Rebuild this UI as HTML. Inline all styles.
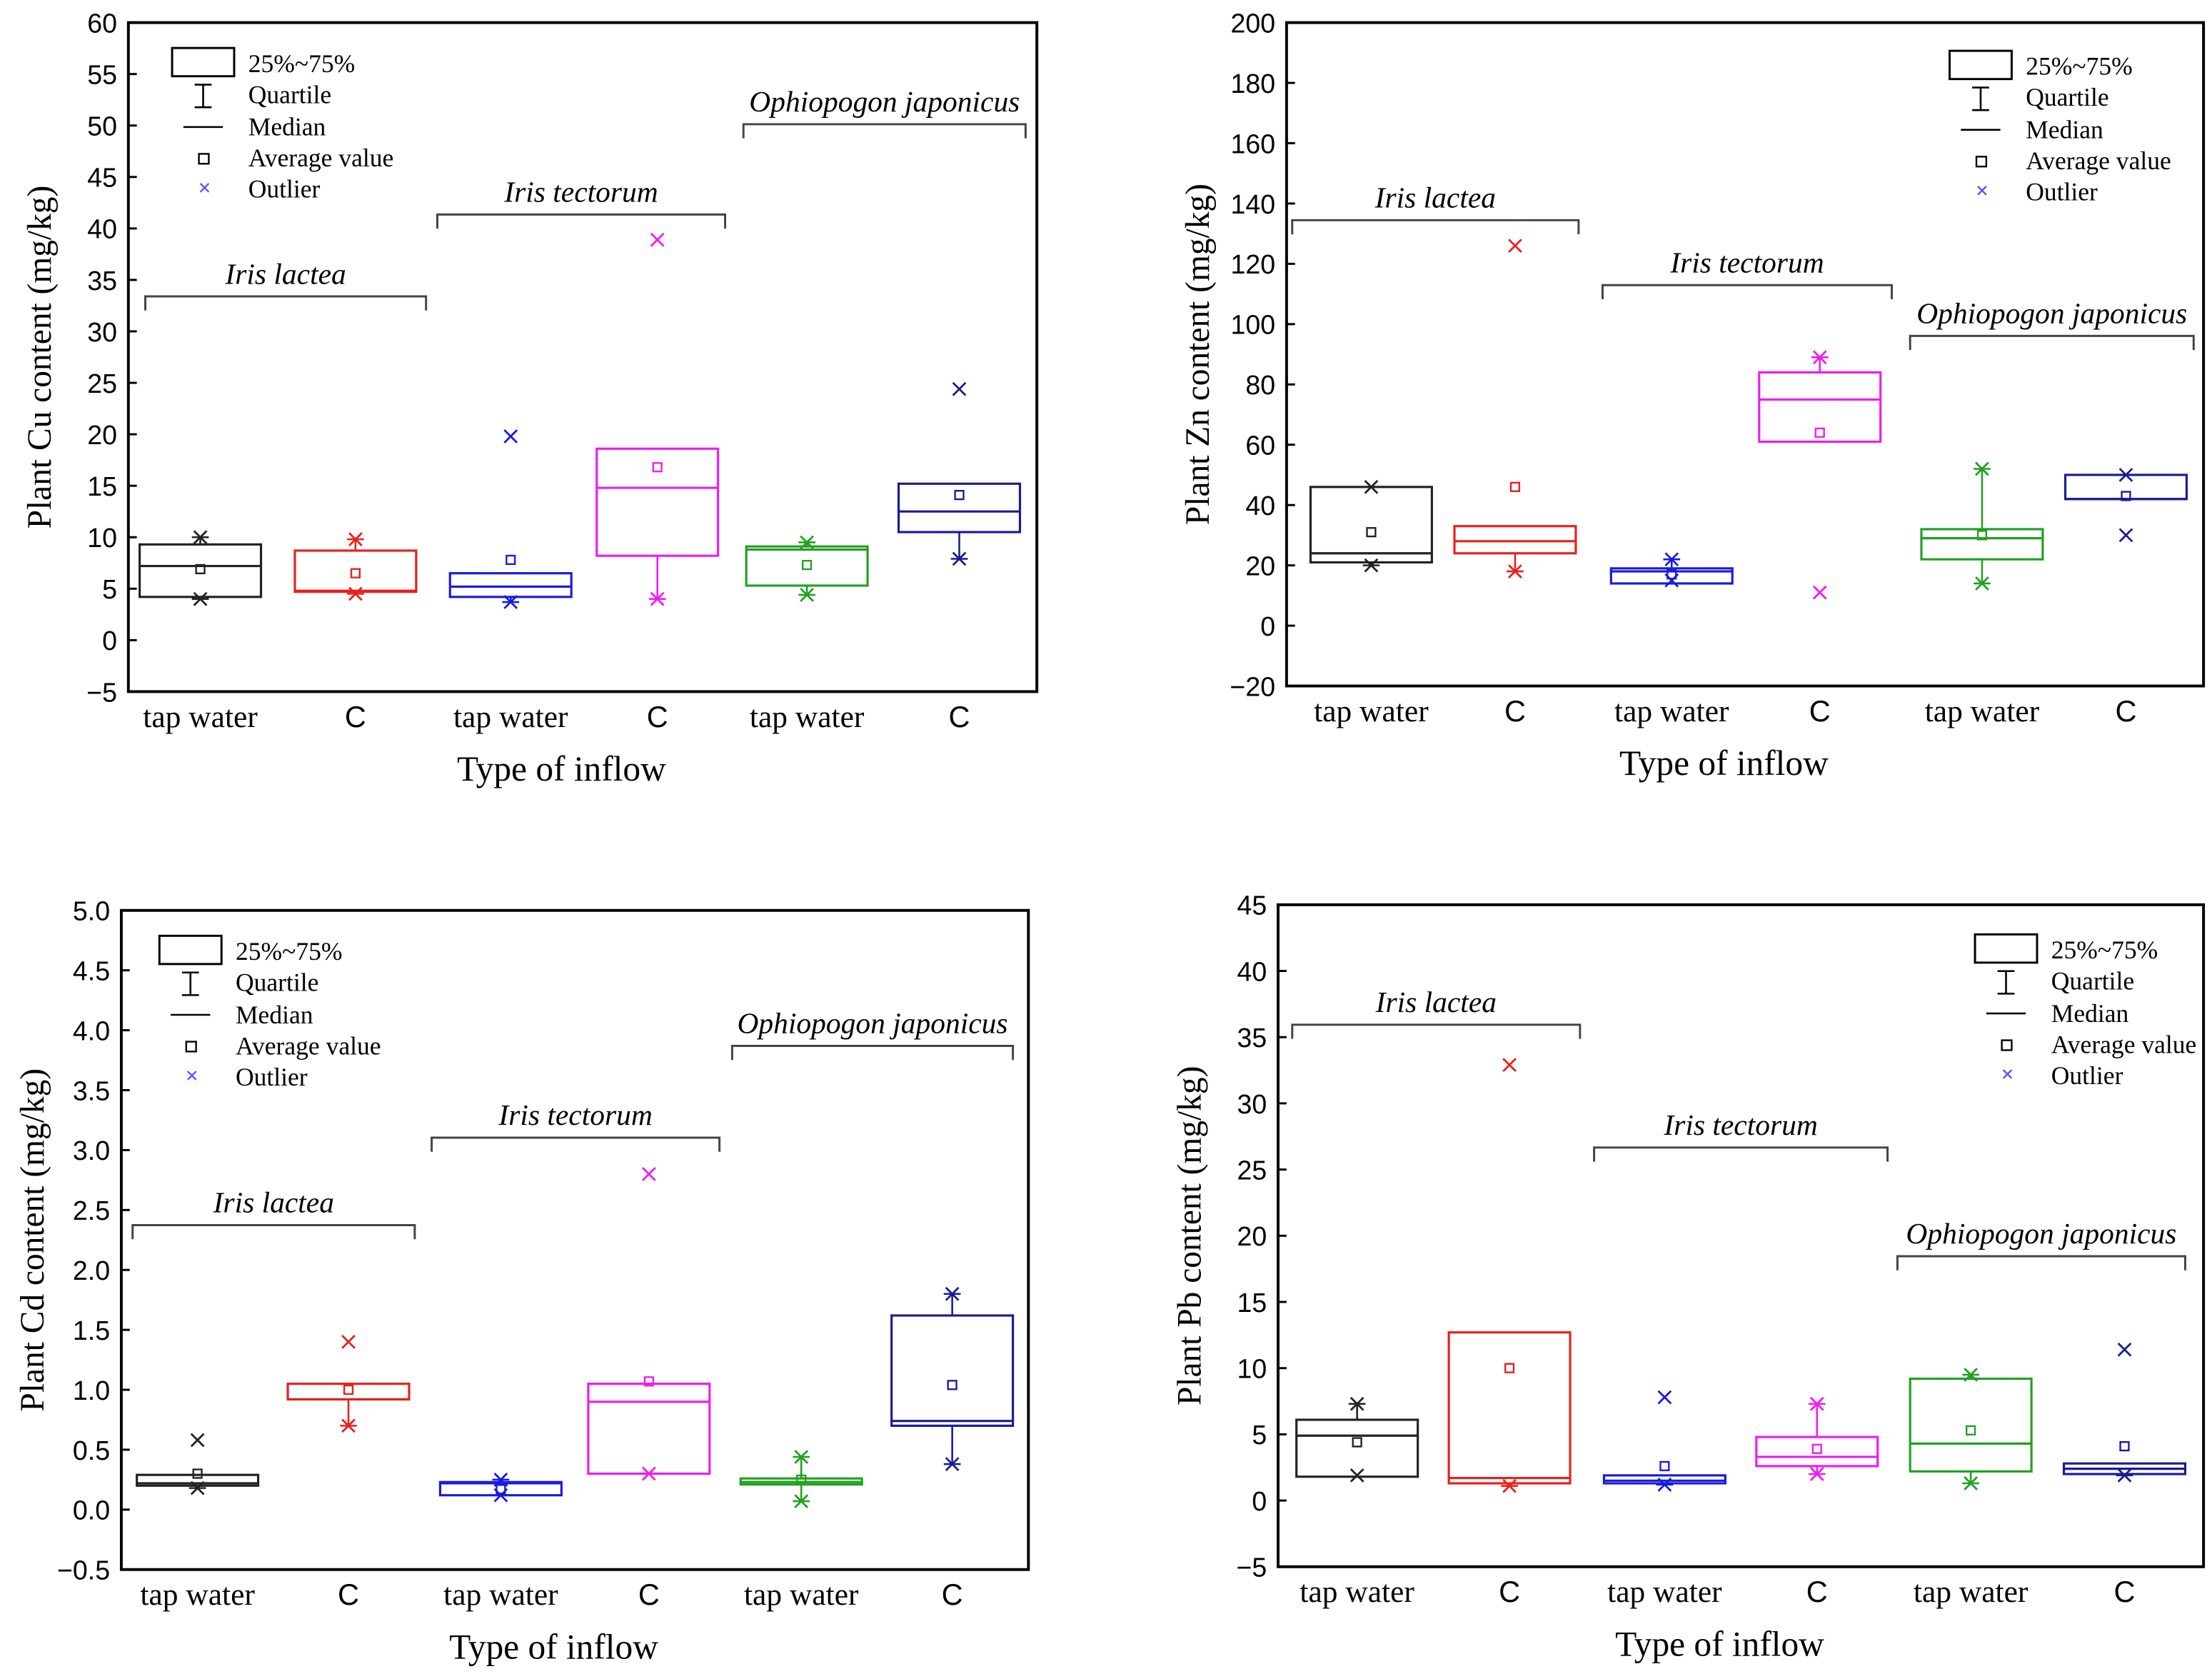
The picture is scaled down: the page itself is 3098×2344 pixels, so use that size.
<!DOCTYPE html>
<html><head><meta charset="utf-8"><style>
html,body{margin:0;padding:0;background:#fff;}
svg{display:block;}
</style></head><body>
<svg id="chart" width="3098" height="2344" viewBox="0 0 1568 1186" preserveAspectRatio="none" xmlns="http://www.w3.org/2000/svg"></svg>
<script>
// ---- data ----
const categories = ["tap water","C","tap water","C","tap water","C"];
const colors = ["#222","#e8201c","#1a1ae0","#f01cf0","#22a022","#1c1c90"];
const species = ["Iris lactea","Iris tectorum","Ophiopogon japonicus"];

const cuQ1=[4.2,4.7,4.2,8.2,5.3,10.5], cuQ3=[9.3,8.7,6.5,18.6,9.1,15.2], cuMed=[7.2,4.8,5.2,14.8,8.8,12.5], cuMean=[6.9,6.5,7.8,16.8,7.3,14.1];
const cuLo=[4.0,4.5,3.7,4.0,4.4,7.9], cuHi=[10.0,9.8,null,null,9.5,null], cuOut=[[],[],[19.8],[38.9],[],[24.4]];
const cuTicks=[-5,0,5,10,15,20,25,30,35,40,45,50,55,60];

const znQ1=[21,24,14,61,22,42], znQ3=[46,33,19,84,32,50], znMed=[24,28,18,75,29,42], znMean=[31,46,17,64,30,43];
const znLo=[20,18,15,null,14,null], znHi=[46,null,22,89,52,null], znOut=[[],[126],[],[11],[],[50,30]];
const znTicks=[-20,0,20,40,60,80,100,120,140,160,180,200];

const cdQ1=[0.2,0.92,0.12,0.3,0.21,0.7], cdQ3=[0.29,1.05,0.23,1.05,0.26,1.62], cdMed=[0.22,0.92,0.22,0.9,0.23,0.74], cdMean=[0.3,1.0,0.17,1.07,0.25,1.04];
const cdLo=[0.18,0.7,0.12,0.3,0.07,0.38], cdHi=[null,null,0.25,null,0.44,1.8], cdOut=[[0.58],[1.4],[],[2.8],[],[]];
const cdTicks=[-0.5,0,0.5,1,1.5,2,2.5,3,3.5,4,4.5,5];

const pbQ1=[1.8,1.3,1.3,2.6,2.2,2.0], pbQ3=[6.1,12.7,1.9,4.8,9.2,2.8], pbMed=[4.9,1.7,1.5,3.3,4.3,2.4], pbMean=[4.4,10,2.6,3.9,5.3,4.1];
const pbLo=[1.9,1.1,1.2,2.0,1.3,1.9], pbHi=[7.3,null,null,7.3,9.5,null], pbOut=[[],[32.9],[7.8],[],[],[11.4]];
const pbTicks=[-5,0,5,10,15,20,25,30,35,40,45];

const NS="http://www.w3.org/2000/svg";
const svg=document.getElementById('chart');
function mk(tag,attrs,parent){const e=document.createElementNS(NS,tag);for(const k in attrs)e.setAttribute(k,attrs[k]);(parent||svg).appendChild(e);return e;}
function txt(s,attrs,parent){const e=mk('text',attrs,parent);e.textContent=s;return e;}

function panel(p){
  const g=mk('g',{});
  
  
  const y=v=>p.y0+(p.ymax-v)/(p.ymax-p.ymin)*(p.y1-p.y0);
  const frame=mk('rect',{x:p.x0,y:p.y0,width:p.x1-p.x0,height:p.y1-p.y0,fill:'none',stroke:'#000','stroke-width':2},g);
  
  
  p.ticks.forEach(t=>{
    mk('line',{x1:p.x0,x2:p.x0+6,y1:y(t),y2:y(t),stroke:'#000','stroke-width':1.5},g);
    const s=p.dec?Math.abs(t).toFixed(p.dec):String(Math.abs(t));
    const lab=txt((t<0?'\u2212':'')+s,{x:p.x0-8,y:y(t)+7,'text-anchor':'end','font-family':'Liberation Sans, sans-serif','font-size':19},g);
    
    
  });
  categories.forEach((c,i)=>{
    const isC=c==='C';
    const lab=txt(c,{x:p.cx[i],y:p.y1+25,'text-anchor':'middle','font-family':isC?'Liberation Sans, sans-serif':'Liberation Serif, serif','font-size':isC?21:22},g);
    
    
  });
  const xt=txt('Type of inflow',{x:(p.x0+p.x1)/2-15,y:p.y1+63,'text-anchor':'middle','font-family':'Liberation Serif, serif','font-size':25},g);
  
  
  const yt=txt(p.ytitle,{transform:`translate(${p.x0-55},${(p.y0+p.y1)/2}) rotate(-90)`,'text-anchor':'middle','font-family':'Liberation Serif, serif','font-size':24},g);
  
  
  const hw=43;
  const mark=(cx,cy,col)=>{const s=4.5;mk('path',{d:`M${cx-s},${cy-s}L${cx+s},${cy+s}M${cx-s},${cy+s}L${cx+s},${cy-s}`,stroke:col,'stroke-width':1.4},g);};
  for(let i=0;i<6;i++){
    const col=colors[i],cx=p.cx[i];
    const bg=mk('g',{},g);
    
    
    const top=y(p.q3[i]),bot=y(p.q1[i]);
    if(p.lo[i]!=null){mk('line',{x1:cx,x2:cx,y1:bot,y2:y(p.lo[i]),stroke:col,'stroke-width':1.3},bg);mk('line',{x1:cx-6,x2:cx+6,y1:y(p.lo[i]),y2:y(p.lo[i]),stroke:col,'stroke-width':1.3},bg);mark(cx,y(p.lo[i]),col);}
    if(p.hi[i]!=null){mk('line',{x1:cx,x2:cx,y1:top,y2:y(p.hi[i]),stroke:col,'stroke-width':1.3},bg);mk('line',{x1:cx-6,x2:cx+6,y1:y(p.hi[i]),y2:y(p.hi[i]),stroke:col,'stroke-width':1.3},bg);mark(cx,y(p.hi[i]),col);}
    mk('rect',{x:cx-hw,y:top,width:2*hw,height:Math.max(bot-top,1),fill:'#fff',stroke:col,'stroke-width':1.6},bg);
    mk('line',{x1:cx-hw,x2:cx+hw,y1:y(p.med[i]),y2:y(p.med[i]),stroke:col,'stroke-width':1.6},bg);
    mk('rect',{x:cx-3,y:y(p.mean[i])-3,width:6,height:6,fill:'none',stroke:col,'stroke-width':1.2},bg);
    p.out[i].forEach(v=>mark(cx,y(v),col));
  }
  p.br.forEach((b,k)=>{
    const bg=mk('g',{},g);
    
    
    mk('path',{d:`M${b[0]},${b[2]+10}V${b[2]}H${b[1]}V${b[2]+10}`,fill:'none',stroke:'#444','stroke-width':1.5},bg);
    txt(species[k],{x:(b[0]+b[1])/2,y:b[2]-9,'text-anchor':'middle','font-family':'Liberation Serif, serif','font-style':'italic','font-size':21},bg);
  });
  const L=p.leg, lg=mk('g',{},g);
  
  
  mk('rect',{x:L[0],y:L[1],width:44,height:20,fill:'none',stroke:'#000','stroke-width':1.5},lg);
  const tx=L[0]+54,f={'font-family':'Liberation Serif, serif','font-size':18};
  txt('25%~75%',Object.assign({x:tx,y:L[1]+17},f),lg);
  mk('path',{d:`M${L[0]+16},${L[1]+26}h12M${L[0]+22},${L[1]+26}v16M${L[0]+16},${L[1]+42}h12`,stroke:'#000','stroke-width':1.3,fill:'none'},lg);
  txt('Quartile',Object.assign({x:tx,y:L[1]+39},f),lg);
  mk('line',{x1:L[0]+8,x2:L[0]+36,y1:L[1]+56,y2:L[1]+56,stroke:'#000','stroke-width':1.3},lg);
  txt('Median',Object.assign({x:tx,y:L[1]+62},f),lg);
  mk('rect',{x:L[0]+19,y:L[1]+75,width:7,height:7,fill:'none',stroke:'#000','stroke-width':1.2},lg);
  txt('Average value',Object.assign({x:tx,y:L[1]+84},f),lg);
  mk('path',{d:`M${L[0]+20},${L[1]+96}l6,6M${L[0]+20},${L[1]+102}l6,-6`,stroke:'#55f','stroke-width':1.2},lg);
  txt('Outlier',Object.assign({x:tx,y:L[1]+106},f),lg);
}

panel({name:'cu',x0:91,x1:735,y0:16,y1:490,ymin:-5,ymax:60,ticks:cuTicks,ytitle:'Plant Cu content (mg/kg)',
  cx:[142,252,362,466,572,680],q1:cuQ1,q3:cuQ3,med:cuMed,mean:cuMean,lo:cuLo,hi:cuHi,out:cuOut,
  br:[[103,302,210],[310,514,152],[527,727,88]],leg:[122,34]});
panel({name:'zn',x0:912,x1:1562,y0:16,y1:486,ymin:-20,ymax:200,ticks:znTicks,ytitle:'Plant Zn content (mg/kg)',
  cx:[972,1074,1185,1290,1405,1507],q1:znQ1,q3:znQ3,med:znMed,mean:znMean,lo:znLo,hi:znHi,out:znOut,
  br:[[916,1119,156],[1136,1341,202],[1354,1555,238]],leg:[1382,36]});
panel({name:'cd',x0:86,x1:729,y0:645,y1:1112,ymin:-0.5,ymax:5,ticks:cdTicks,dec:1,ytitle:'Plant Cd content (mg/kg)',
  cx:[140,247,355,460,568,675],q1:cdQ1,q3:cdQ3,med:cdMed,mean:cdMean,lo:cdLo,hi:cdHi,out:cdOut,
  br:[[94,294,868],[306,510,806],[519,718,741]],leg:[113,663]});
panel({name:'pb',x0:906,x1:1562,y0:641,y1:1110,ymin:-5,ymax:45,ticks:pbTicks,ytitle:'Plant Pb content (mg/kg)',
  cx:[962,1070,1180,1288,1397,1506],q1:pbQ1,q3:pbQ3,med:pbMed,mean:pbMean,lo:pbLo,hi:pbHi,out:pbOut,
  br:[[916,1120,726],[1130,1338,813],[1345,1549,890]],leg:[1400,662]});
</script>
</body></html>
